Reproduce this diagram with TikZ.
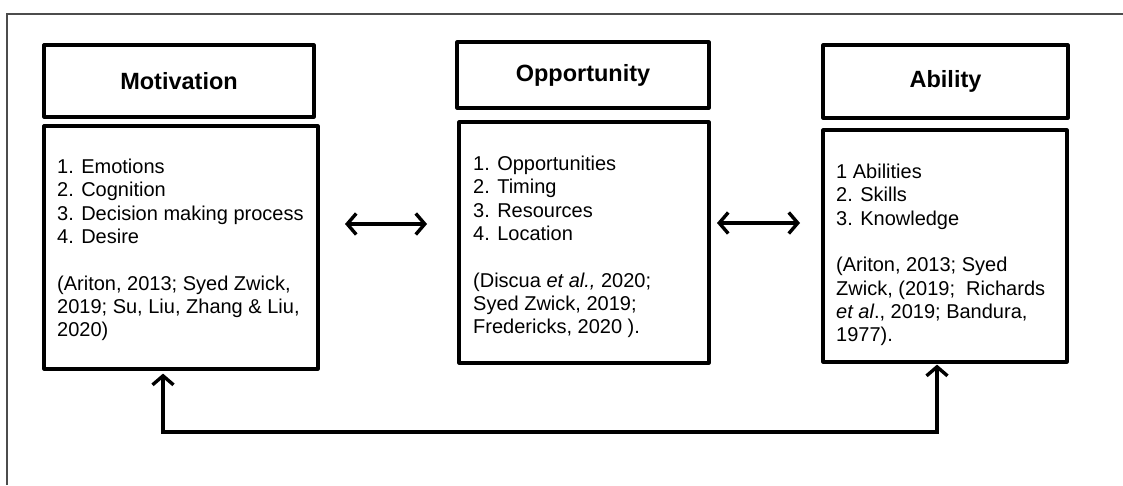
\documentclass[tikz,border=0pt]{standalone}
\usepackage{fontspec}
\setmainfont{Liberation Sans}
\usetikzlibrary{arrows.meta}
\tikzset{barbtip/.tip={Straight Barb[length=9pt,width=21pt,line width=3.4pt]}}
\begin{document}
\begin{tikzpicture}[x=1pt,y=-1pt,
  titlebox/.style={draw,line width=3.2pt,line join=round,inner sep=0pt,
    font=\fontsize{23.5}{27}\selectfont\bfseries},
  bodybox/.style={draw,line width=3.2pt,line join=round,inner sep=0pt},
  bodytext/.style={anchor=north west,inner sep=0pt,align=left,
    font=\fontsize{20}{23.3}\selectfont},
  link/.style={line width=3.2pt,barbtip-barbtip}]
\useasboundingbox (0,0) rectangle (1123,485);
% open frame along the top and left edges
\draw[black!70,line width=1.5pt] (7,485) -- (7,14) -- (1123,14);

% Motivation column
\node[titlebox,minimum width=270pt,minimum height=72pt] (mt) at (179,81) {Motivation};
\node[bodybox,minimum width=274pt,minimum height=243pt] (mb) at (181,247.5) {};
\node[bodytext] (mx) at (57,159) {1. Emotions\\2. Cognition\\3. Decision making process\\4. Desire\\[23.3pt]
(Ariton, 2013; Syed Zwick,\\2019; Su, Liu, Zhang \& Liu,\\2020)};

% Opportunity column
\node[titlebox,minimum width=252pt,minimum height=66pt] (ot) at (583,75) {Opportunity};
\node[bodybox,minimum width=250pt,minimum height=241pt] (ob) at (584,242.5) {};
\node[bodytext] (ox) at (473,156) {1. Opportunities\\2. Timing\\3. Resources\\4. Location\\[23.3pt]
(Discua \textit{et al.,} 2020;\\Syed Zwick, 2019;\\Fredericks, 2020 ).};

% Ability column
\node[titlebox,minimum width=245pt,minimum height=73pt] (at) at (945.5,81.5) {Ability};
\node[bodybox,minimum width=244pt,minimum height=232pt] (ab) at (945,246) {};
\node[bodytext] (ax) at (836,164) {1 Abilities\\2. Skills\\3. Knowledge\\[23.3pt]
(Ariton, 2013; Syed\\Zwick, (2019;\ \ Richards\\\textit{et al}., 2019; Bandura,\\1977).};

% two-way links between the columns
\coordinate (l1) at (345,224);
\coordinate (r1) at (427,224);
\coordinate (l2) at (717,223);
\coordinate (r2) at (800,223);
\draw[link] (l1) -- (r1);
\draw[link] (l2) -- (r2);

% feedback loop under the columns
\coordinate (fl) at (163,432);
\coordinate (fr) at (937,432);
\draw[link,line join=miter,shorten <=3pt,shorten >=1pt]
  (mb.south -| fl) -- (fl) -- (fr) -- (ab.south -| fr);
\end{tikzpicture}
\end{document}
